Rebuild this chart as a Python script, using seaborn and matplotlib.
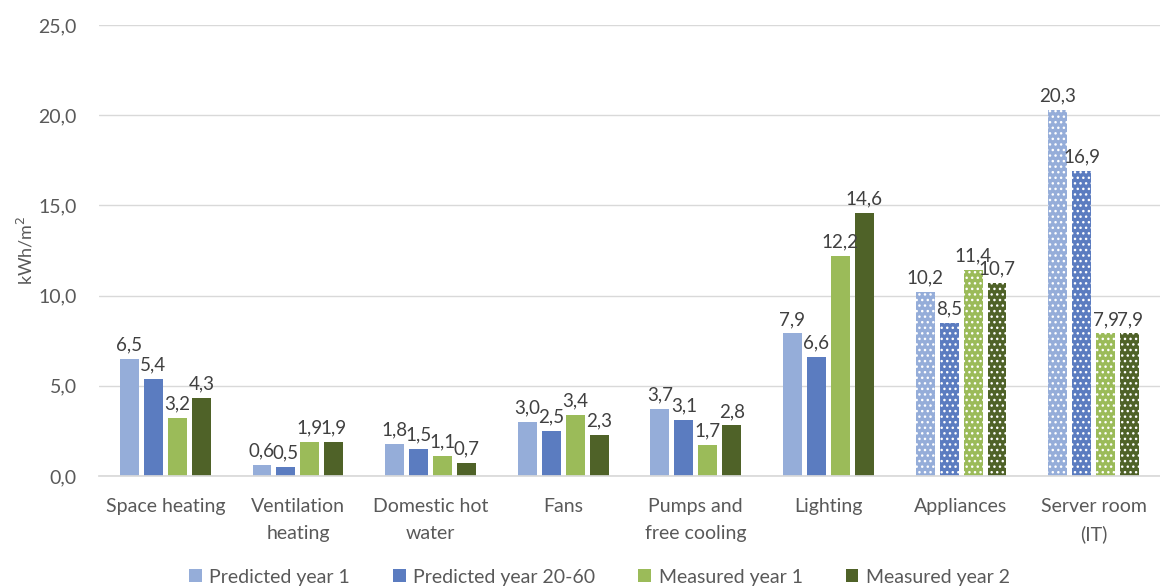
import matplotlib
matplotlib.use("Agg")
import matplotlib.pyplot as plt
import seaborn as sns
import pandas as pd
from matplotlib.ticker import FuncFormatter, MultipleLocator

categories = ["Space heating", "Ventilation\nheating", "Domestic hot\nwater", "Fans",
              "Pumps and\nfree cooling", "Lighting", "Appliances", "Server room\n(IT)"]
series = ["Predicted year 1", "Predicted year 20-60", "Measured year 1", "Measured year 2"]
pred_y1 = [6.5, 0.6, 1.8, 3.0, 3.7, 7.9, 10.2, 20.3]
pred_y2060 = [5.4, 0.5, 1.5, 2.5, 3.1, 6.6, 8.5, 16.9]
meas_y1 = [3.2, 1.9, 1.1, 3.4, 1.7, 12.2, 11.4, 7.9]
meas_y2 = [4.3, 1.9, 0.7, 2.3, 2.8, 14.6, 10.7, 7.9]
hatched_categories = ["Appliances", "Server room\n(IT)"]

colors = ["#95ADD9", "#5B7CC0", "#9BBB59", "#4F6228"]

rows = []
for s, vals in zip(series, [pred_y1, pred_y2060, meas_y1, meas_y2]):
    for c, v in zip(categories, vals):
        rows.append({"category": c, "series": s, "value": v})
df = pd.DataFrame(rows)

sns.set_theme(style="white")
plt.rcParams["font.family"] = ["Lato", "DejaVu Sans"]
plt.rcParams["hatch.linewidth"] = 1.0

fig = plt.figure(figsize=(11.6, 5.86), dpi=100)
ax = fig.add_axes([99 / 1160, 110 / 586, 1 - 99 / 1160, 451 / 586])

sns.barplot(data=df, x="category", y="value", hue="series", order=categories,
            hue_order=series, palette=dict(zip(series, colors)), width=0.723,
            gap=0.21, saturation=1, ax=ax, linewidth=0, errorbar=None)

txt = "#595959"
for cont in ax.containers:
    for i, bar in enumerate(cont):
        if categories[i] in hatched_categories:
            bar.set_hatch("...")
            bar.set_edgecolor("white")
            bar.set_linewidth(0)
    ax.bar_label(cont, labels=[f"{b.get_height():.1f}".replace(".", ",") for b in cont],
                 padding=4, fontsize=13.5, color="#404040")

ax.set_ylim(0, 25)
ax.set_xlim(-0.5, len(categories) - 0.5)
ax.yaxis.set_major_locator(MultipleLocator(5))
ax.yaxis.set_major_formatter(FuncFormatter(lambda v, p: f"{v:.1f}".replace(".", ",")))
ax.grid(axis="y", color="#d9d9d9", linewidth=1)
ax.set_axisbelow(True)
for side in ["top", "right", "left"]:
    ax.spines[side].set_visible(False)
ax.spines["bottom"].set_color("#d9d9d9")
ax.tick_params(axis="both", length=0, labelsize=14, colors=txt)
ax.tick_params(axis="y", pad=16)
ax.tick_params(axis="x", pad=16)
for lbl in ax.get_xticklabels():
    lbl.set_linespacing(1.7)
ax.set_xlabel("")
ax.set_ylabel("kWh/m$^2$", fontsize=13, color=txt, labelpad=2)

handles, labels = ax.get_legend_handles_labels()
ax.legend(handles, labels, loc="center", bbox_to_anchor=(0.5 - 30 / 1061, -101 / 451),
          ncol=4, frameon=False, fontsize=14, handlelength=0.65, handleheight=0.65,
          handletextpad=0.4, columnspacing=2.2, labelcolor=txt)

fig.savefig("out.png", dpi=100)
